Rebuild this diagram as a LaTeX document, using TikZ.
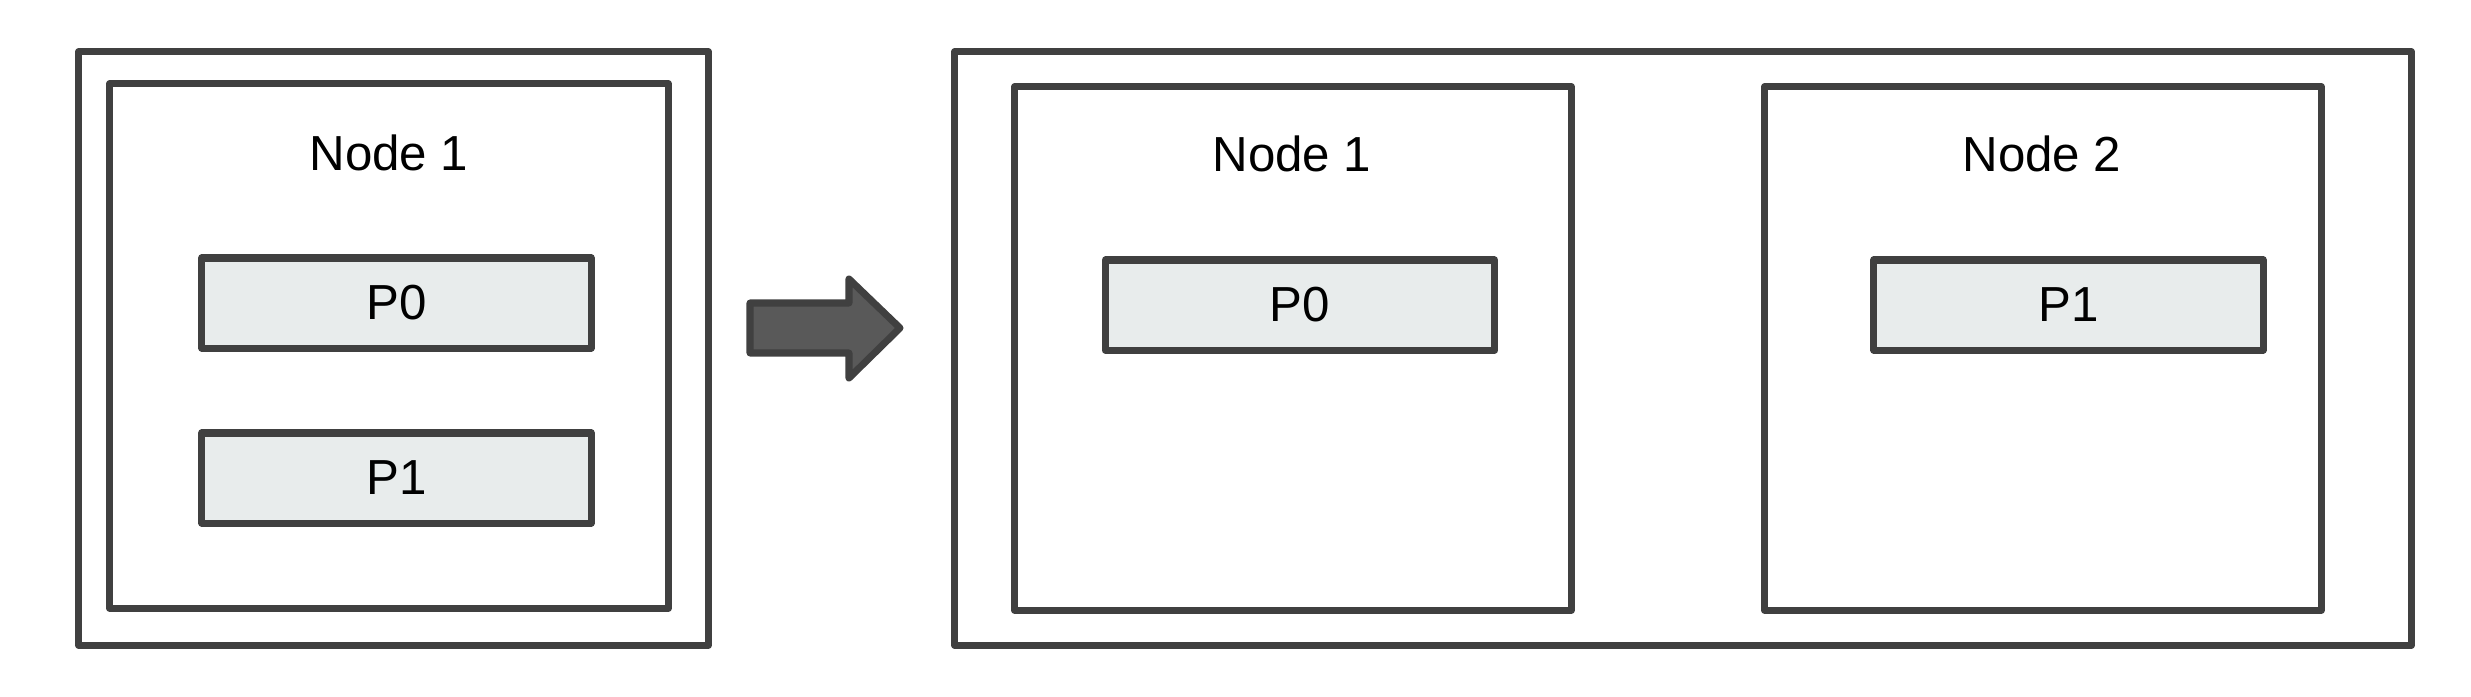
\documentclass[tikz,border=0pt]{standalone}
\usepackage{fontspec}
\setmainfont{Liberation Sans}
\definecolor{edge}{HTML}{404040}
\definecolor{pfill}{HTML}{E8ECEC}
\definecolor{arrowfill}{HTML}{595959}
\begin{document}
\begin{tikzpicture}[x=0.01cm,y=-0.01cm,
  box/.style={draw=edge, line width=2pt, line join=round, fill=white, inner sep=0pt},
  outerbox/.style={box, minimum height=5.93cm},
  hostbox/.style={box, minimum width=5.56cm, minimum height=5.23cm},
  partbox/.style={box, fill=pfill, minimum width=3.89cm, minimum height=0.9cm, font=\fontsize{14pt}{16pt}\selectfont},
  label/.style={inner sep=0pt, font=\fontsize{14pt}{16pt}\selectfont}]
\useasboundingbox (0,0) rectangle (2471,696);
% left
\node[outerbox, minimum width=6.29cm] (lo) at (393.5,348.5) {};
\node[hostbox, minimum width=5.58cm, minimum height=5.24cm] (ln) at (389,346) {};
\node[label] (lnt) at (389,153) {Node 1};
\node[partbox] (lp0) at (396.5,303) {P0};
\node[partbox] (lp1) at (396.5,478) {P1};
% arrow
\draw[fill=arrowfill, draw=edge, line width=2pt, line join=round]
  (750,303) -- (849,303) -- (849,279) -- (900,328) -- (849,378) -- (849,353) -- (750,353) -- cycle;
% right
\node[outerbox, minimum width=14.56cm] (ro) at (1683,348.5) {};
\node[hostbox] (rn1) at (1293,348.5) {};
\node[label] (rn1t) at (1292,154) {Node 1};
\node[partbox] (rp0) at (1300,305) {P0};
\node[hostbox] (rn2) at (2043,348.5) {};
\node[label] (rn2t) at (2042,154) {Node 2};
\node[partbox] (rp1) at (2068.5,305) {P1};
\end{tikzpicture}
\end{document}
